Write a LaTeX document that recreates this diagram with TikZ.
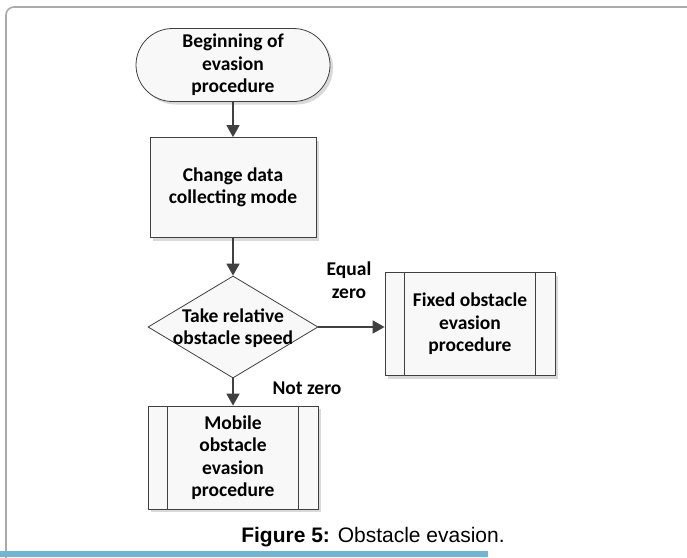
\documentclass[tikz,border=0pt]{standalone}
\usepackage{fontspec}
\setmainfont{Carlito}
\newfontfamily\capfont{Liberation Sans}
\usetikzlibrary{shapes.geometric,shapes.misc,arrows.meta,shadows}
\definecolor{lineclr}{HTML}{404040}
\definecolor{boxfill}{HTML}{F8F8F8}
\definecolor{framec}{HTML}{AAAAAA}
\definecolor{barblue}{HTML}{6DB6D6}
\tikzset{
  x=1pt,y=-1pt,
  txt/.style={align=center,font=\fontsize{19.5}{22.5}\selectfont\bfseries,inner sep=0pt},
  base/.style={draw=lineclr,line width=0.8pt,fill=boxfill,txt},
  shade/.style={drop shadow={shadow xshift=3pt,shadow yshift=-3pt,fill=black!25,opacity=0.6}},
  term/.style={base,rounded rectangle,minimum width=194pt,minimum height=73pt,shade},
  proc/.style={base,rectangle,minimum width=166pt,minimum height=100pt,shade},
  dec/.style={base,diamond,aspect=1.67,minimum width=170pt,minimum height=102pt},
  sub/.style={base,rectangle,minimum width=170pt,minimum height=103pt,shade},
  conn/.style={draw=lineclr,line width=1.6pt,-{Triangle[length=12pt,width=13pt]}},
  lab/.style={txt}
}
\begin{document}
\begin{tikzpicture}
\useasboundingbox (0,0) rectangle (687,557);
% frame
\draw[framec,line width=1.6pt,rounded corners=8pt] (6,570) -- (6,7) -- (688,7);
\fill[barblue] (0,551) rectangle (488,557);
% nodes
\node[term] (start) at (233,65) {Beginning of\\evasion\\procedure};
\node[proc] (change) at (233,187.5) {Change data\\collecting mode};
\node[dec] (take) at (233,327) {};
\node[txt] (taketxt) at (233,328) {Take relative\\obstacle speed};
\node[sub] (fixed) at (470,324) {Fixed obstacle\\evasion\\procedure};
\node[sub] (mobile) at (233,457.5) {Mobile\\obstacle\\evasion\\procedure};
\foreach \n in {fixed,mobile}{
  \draw[lineclr,line width=0.8pt] ([xshift=20pt]\n.north west) -- ([xshift=20pt]\n.south west);
  \draw[lineclr,line width=0.8pt] ([xshift=-20pt]\n.north east) -- ([xshift=-20pt]\n.south east);
}
% connectors
\draw[conn] (start) -- (change);
\draw[conn] (change) -- (take);
\draw[conn] (take.east) -- (fixed.west |- take.east);
\draw[conn] (take.south) -- (mobile.north);
% labels
\node[lab] (eq) at (349,280) {Equal\\zero};
\node[lab] (nz) at (307,388) {Not zero};
\node[font=\capfont\fontsize{21}{24}\selectfont] (cap) at (373,537) {\textbf{Figure 5:} Obstacle evasion.};
\end{tikzpicture}
\end{document}
